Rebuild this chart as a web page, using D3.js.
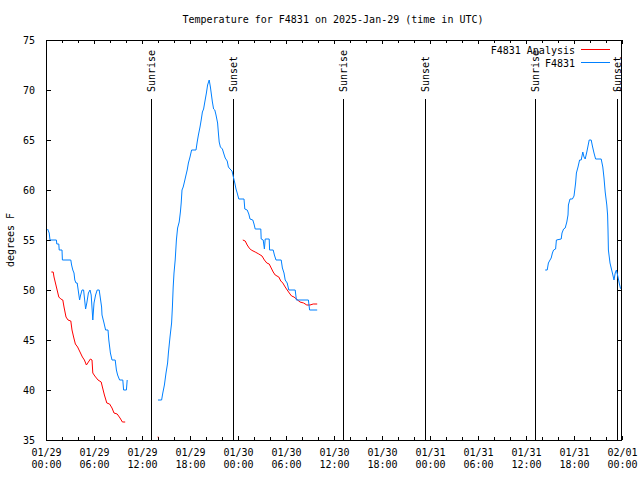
<!DOCTYPE html>
<html><head><meta charset="utf-8">
<script src="https://cdn.jsdelivr.net/npm/d3@7"></script>
<style>
body{margin:0;background:#fff;}
svg{display:block;background:#fff;}
text{font-family:"DejaVu Sans Mono",monospace;font-size:10px;fill:#000;}
</style></head><body>
<svg id="chart" width="640" height="480"></svg>
<script>
// ---------- DATA ----------
const chartTitle = "Temperature for F4831 on 2025-Jan-29 (time in UTC)";
const yAxisLabel = "degrees F";
const yTickValues = [35, 40, 45, 50, 55, 60, 65, 70, 75];
const startUTC = Date.UTC(2025, 0, 29, 0, 0);
const xMajorTickHours = [0, 6, 12, 18, 24, 30, 36, 42, 48, 54, 60, 66, 72];
const xMinorTickHours = d3.range(0, 73, 2);
const seriesNames = ["F4831 Analysis", "F4831"];
const seriesColors = ["#ff0000", "#0080ff"];

// F4831 observations (hours since 01/29 00:00 UTC); null = gap
const obsHours = [
  0.2,0.4,0.5,1.3,1.35,1.6,1.65,2.0,2.05,3.1,3.2,3.35,3.5,3.6,3.75,3.9,4.2,4.3,4.5,4.7,4.95,5.1,5.3,5.5,5.65,5.85,6.0,6.2,6.4,6.65,6.95,7.0,7.25,7.45,7.75,7.85,8.05,8.25,8.65,8.8,8.95,9.2,9.6,9.7,10.05,10.15,
  null,
  14.0,14.45,14.6,14.8,15.0,15.2,15.3,15.5,15.7,15.8,15.9,16.0,16.15,16.3,16.45,16.65,16.8,16.9,17.0,17.15,17.3,17.5,17.65,17.8,18.0,18.2,18.75,18.9,19.05,19.25,19.4,19.55,19.7,19.85,20.05,20.2,20.4,20.55,20.65,20.8,20.95,21.1,21.25,21.45,21.55,21.65,21.8,22.05,22.2,22.4,22.65,22.8,23.0,23.25,23.45,23.6,23.75,23.9,24.1,24.75,24.85,25.15,25.35,25.5,25.85,26.0,26.15,26.85,26.9,27.15,27.3,27.4,27.9,27.95,28.4,28.55,28.75,29.4,29.55,29.75,29.9,30.15,30.35,31.15,31.3,32.8,32.95,33.9,
  null,
  62.4,62.65,62.8,63.0,63.15,63.3,63.45,63.7,63.8,64.4,64.5,64.7,64.9,65.1,65.25,65.3,65.5,65.8,66.0,66.2,66.3,66.5,66.7,66.9,67.1,67.25,67.4,67.6,67.75,67.9,68.15,68.3,68.5,68.7,69.4,69.6,69.75,69.9,70.1,70.2,70.25,70.3,70.5,70.65,70.8,71.0,71.15,71.3,71.5,71.65,71.8,72.0
];
const obsTemps = [
  56.1,55.7,55,55,54.6,54.6,54,54,53,53,52.5,52,51.7,51,50.7,50.7,49,49.4,50,50,48.1,48.7,49.7,50,49.5,47,48.7,49.5,50,50,48.3,47.5,46.7,46,46,45,43.7,43,43,42,41.5,41,41,40,40,41,
  null,
  39,39,39.7,40.5,41.7,42.7,43.7,45.3,46.7,48.3,50.3,51.7,53,55,56.2,56.8,57.8,58.7,60,60.3,60.8,61.5,62,62.7,63.3,64,64,64.8,65.5,66.3,67,67.8,68.1,68.8,69.7,70.5,71,70.3,69.7,68.8,68.1,68,67.5,66.7,65.7,64.8,64.3,64.1,63.7,63.2,62.9,62.3,62.1,61.9,61.2,60.7,60.1,59.7,59.1,59.1,58.1,58,57.6,57.1,57,56.6,56.1,56.1,55.1,55,54.1,55.1,55.1,54,54,53.5,53,53,52.2,51.7,51,50.7,50,50,49,49,48,48,
  null,
  52,52,52.7,53,53.2,53.7,54,54.1,55,55.1,55.7,56.1,56.2,56.8,57.5,58.5,59.1,59.1,59.4,60.7,61.7,62.3,63,63,63.8,63.3,63.1,63.8,64.4,65,65,64.4,63.7,63.1,63.1,62.3,61.2,59.8,58.5,57.5,56,54,52.7,52.2,51.7,51,51.7,52,51.3,50.7,50.2,50
];

// F4831 Analysis (hours since 01/29 00:00 UTC); null = gap
const anaHours = [
  0.67,0.9,1.0,1.3,1.6,1.85,2.1,2.25,2.5,2.75,3.1,3.25,3.45,3.67,3.95,4.25,4.55,4.8,5.05,5.3,5.55,5.75,5.85,6.1,6.5,6.9,7.05,7.3,7.6,7.95,8.25,8.5,8.9,9.25,9.55,9.9,
  null,
  13.95,14.05,
  null,
  24.6,24.9,25.15,25.4,25.65,26.15,26.6,27.0,27.3,27.6,27.9,28.15,28.4,28.65,29.1,29.35,29.6,29.9,30.15,30.5,30.7,31.0,31.3,31.75,32.2,32.6,33.0,33.4,33.9
];
const anaTemps = [
  51.8,51.8,51.3,50.3,49.3,49.1,49,48.3,47.3,47,46.9,46,45.3,44.6,44.3,43.8,43.3,43,42.5,42.8,43.1,43,41.7,41.4,41,40.8,40.3,39.5,38.7,38.6,38.2,37.7,37.6,37.2,36.8,36.8,
  null,
  35.3,35.3,
  null,
  55,54.9,54.5,54.2,54,53.8,53.6,53.4,53,52.7,52.6,52.2,51.8,51.5,51.3,50.9,50.7,50.3,50,49.6,49.4,49.3,49.1,48.8,48.7,48.5,48.5,48.6,48.6
];

const sunEventNames = ["Sunrise", "Sunset", "Sunrise", "Sunset", "Sunrise", "Sunset"];
const sunEventHours = [13.15, 23.4, 37.15, 47.4, 61.15, 71.4];

// ---------- CHART ----------
const hourToDate = h => new Date(startUTC + h * 3600000);
const svg = d3.select("#chart");
const L = 46, R = 622, T = 40, B = 440;
const x = d3.scaleUtc().domain([hourToDate(0), hourToDate(72)]).range([L, R]);
const y = d3.scaleLinear().domain([35, 75]).range([B, T]);

// Title
svg.append("text").attr("x", 333).attr("y", 23).attr("text-anchor", "middle").text(chartTitle);

// Y label
svg.append("text").attr("transform", "translate(14,240) rotate(-90)")
  .attr("text-anchor", "middle").text(yAxisLabel);

// Axes (ticks inward, mirrored)
const fmtDate = d3.utcFormat("%m/%d"), fmtTime = d3.utcFormat("%H:%M");
const gxB = svg.append("g").attr("transform", `translate(0,${B})`)
  .call(d3.axisBottom(x).tickValues(xMajorTickHours.map(hourToDate)).tickSize(-4).tickPadding(9).tickFormat(fmtDate));
gxB.selectAll(".tick text").each(function(d) {
  const t = d3.select(this).text("");
  t.append("tspan").attr("x", 0).attr("dy", "0.71em").text(fmtDate(d));
  t.append("tspan").attr("x", 0).attr("dy", "1.2em").text(fmtTime(d));
});
svg.append("g").attr("transform", `translate(0,${B})`)
  .call(d3.axisBottom(x).tickValues(xMinorTickHours.map(hourToDate)).tickSize(-3).tickFormat(""));
svg.append("g").attr("transform", `translate(0,${T})`)
  .call(d3.axisTop(x).tickValues(xMajorTickHours.map(hourToDate)).tickSize(-4).tickFormat(""));
svg.append("g").attr("transform", `translate(0,${T})`)
  .call(d3.axisTop(x).tickValues(xMinorTickHours.map(hourToDate)).tickSize(-3).tickFormat(""));
svg.append("g").attr("transform", `translate(${L},0)`)
  .call(d3.axisLeft(y).tickValues(yTickValues).tickSize(-5).tickPadding(11).tickFormat(d3.format("d")));
svg.append("g").attr("transform", `translate(${R},0)`)
  .call(d3.axisRight(y).tickValues(yTickValues).tickSize(-5).tickFormat(""));
svg.selectAll(".domain").remove();
svg.selectAll(".tick line").attr("stroke", "#000");
svg.selectAll(".tick text").attr("fill", "#000").style("font-family", '"DejaVu Sans Mono",monospace').style("font-size", "10px");

// Sun event lines + labels
sunEventHours.forEach((h, i) => {
  const xp = Math.round(x(hourToDate(h))) + 0.5;
  svg.append("line").attr("x1", xp).attr("x2", xp).attr("y1", 99).attr("y2", B)
    .attr("stroke", "#000").attr("stroke-width", 1);
  svg.append("text").attr("transform", `translate(${xp},92) rotate(-90)`)
    .attr("dy", "0.35em").attr("text-anchor", "start").text(sunEventNames[i]);
});

// Series
svg.append("clipPath").attr("id", "plotclip").append("rect")
  .attr("x", L).attr("y", T).attr("width", R - L).attr("height", B - T);
const line = d3.line().defined(d => d[0] !== null && d[1] !== null)
  .x(d => x(hourToDate(d[0]))).y(d => y(d[1]));
const anaData = anaHours.map((h, i) => [h, anaTemps[i]]);
const obsData = obsHours.map((h, i) => [h, obsTemps[i]]);
svg.append("path").datum(anaData).attr("d", line).attr("fill", "none")
  .attr("stroke", seriesColors[0]).attr("stroke-width", 1).attr("clip-path", "url(#plotclip)");
svg.append("path").datum(obsData).attr("d", line).attr("fill", "none")
  .attr("stroke", seriesColors[1]).attr("stroke-width", 1).attr("clip-path", "url(#plotclip)");

// Frame
svg.append("rect").attr("x", L + 0.5).attr("y", T + 0.5).attr("width", R - L - 1).attr("height", B - T)
  .attr("fill", "none").attr("stroke", "#000").attr("stroke-width", 1);

// Legend
seriesNames.forEach((name, i) => {
  const ly = 50 + i * 13;
  svg.append("text").attr("x", 575).attr("y", ly).attr("dy", "0.35em").attr("text-anchor", "end").text(name);
  svg.append("line").attr("x1", 581).attr("x2", 610).attr("y1", ly - 0.5).attr("y2", ly - 0.5)
    .attr("stroke", seriesColors[i]).attr("stroke-width", 1);
});
</script>
</body></html>
